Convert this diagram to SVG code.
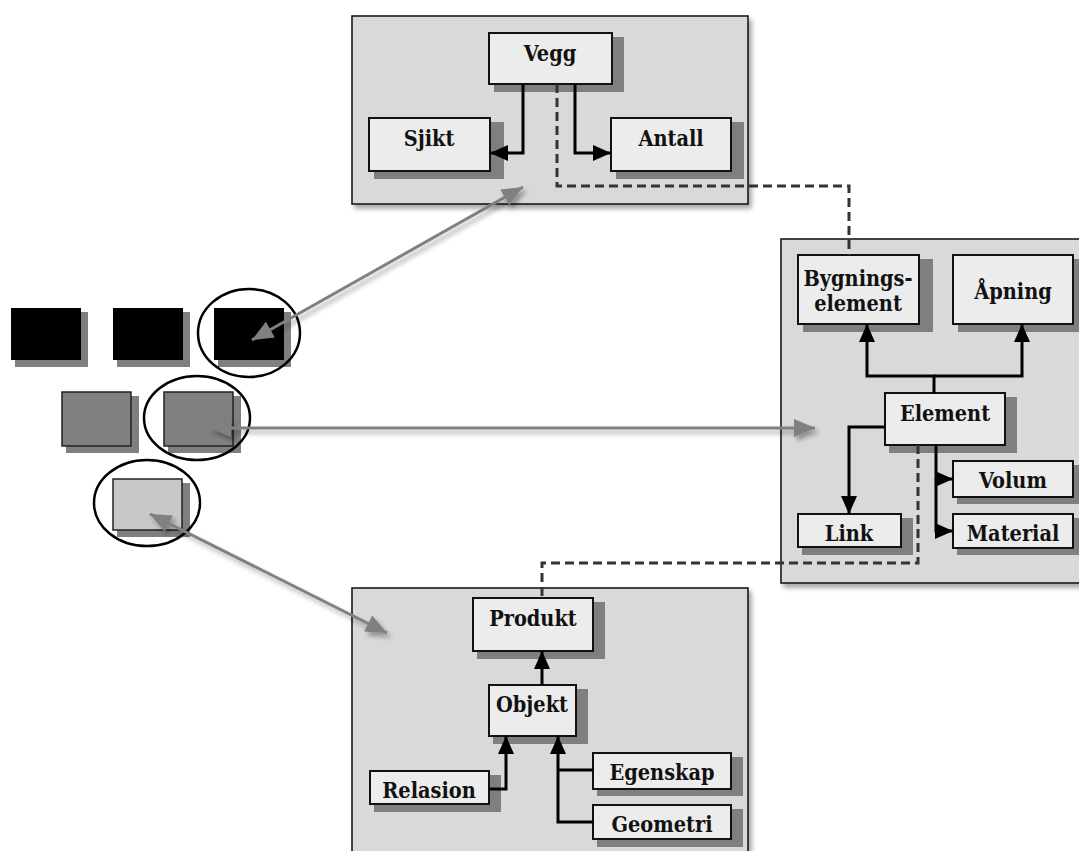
<svg xmlns="http://www.w3.org/2000/svg" width="1079" height="851" viewBox="0 0 1079 851">
  <defs>
    <style>
      .panel { fill: #d9d9d9; stroke: #1a1a1a; stroke-width: 1.6; }
      .sh { fill: #7f7f7f; }
      .box { fill: #ececec; stroke: #111; stroke-width: 2; }
      .lbl { font-family: 'DejaVu Serif Condensed', 'DejaVu Serif', serif; font-stretch: condensed; font-weight: bold; font-size: 21.5px; fill: #111; text-anchor: middle; }
      .link { fill: none; stroke: #000; stroke-width: 3; }
      .dash { fill: none; stroke: #333; stroke-width: 3; stroke-dasharray: 9 5; }
      .gray { fill: none; stroke: #808080; stroke-width: 3; }
      .ring { fill: none; stroke: #000; stroke-width: 2.5; }
    </style>
    <filter id="soft" x="-10%" y="-10%" width="130%" height="130%">
      <feGaussianBlur in="SourceAlpha" stdDeviation="2.5"/>
      <feOffset dx="3" dy="4" result="b"/>
      <feComponentTransfer><feFuncA type="linear" slope="0.35"/></feComponentTransfer>
      <feMerge><feMergeNode/><feMergeNode in="SourceGraphic"/></feMerge>
    </filter>
    <marker id="ah" markerUnits="userSpaceOnUse" markerWidth="20" markerHeight="18" refX="18" refY="9" orient="auto-start-reverse" overflow="visible">
      <path d="M0,1 L18,9 L0,17 z" fill="#000"/>
    </marker>
    <marker id="gah" markerUnits="userSpaceOnUse" markerWidth="22" markerHeight="18" refX="21" refY="9" orient="auto-start-reverse" overflow="visible">
      <path d="M0,0 L21,9 L0,18 z" fill="#808080"/>
    </marker>
  </defs>

  <rect width="1079" height="851" fill="#fff"/>

  <!-- package panels -->
  <g id="panel-vegg"><rect class="panel" x="352" y="16" width="396" height="188" filter="url(#soft)"/></g>
  <g id="panel-element"><rect class="panel" x="781" y="239" width="310" height="344" filter="url(#soft)"/></g>
  <g id="panel-produkt"><rect class="panel" x="352" y="588" width="396" height="280" filter="url(#soft)"/></g>

  <!-- legend squares on the left -->
  <g id="legend">
    <rect class="sh" x="15" y="312" width="73" height="55"/>
    <rect x="11" y="308" width="70" height="52" fill="#000"/>
    <rect class="sh" x="117" y="312" width="73" height="55"/>
    <rect x="113" y="308" width="70" height="52" fill="#000"/>
    <rect class="sh" x="218" y="312" width="73" height="55"/>
    <rect x="214" y="308" width="70" height="52" fill="#000"/>
    <rect class="sh" x="66" y="396" width="73" height="57"/>
    <rect x="62" y="392" width="69" height="54" fill="#7f7f7f" stroke="#222" stroke-width="1.5"/>
    <rect class="sh" x="168" y="396" width="73" height="57"/>
    <rect x="164" y="392" width="69" height="54" fill="#7f7f7f" stroke="#222" stroke-width="1.5"/>
    <rect class="sh" x="117" y="483" width="73" height="54"/>
    <rect x="113" y="479" width="69" height="51" fill="#c8c8c8" stroke="#222" stroke-width="1.5"/>
  </g>

  <!-- selection rings -->
  <g id="rings">
    <ellipse class="ring" cx="249" cy="333" rx="51" ry="44"/>
    <ellipse class="ring" cx="197" cy="418" rx="53" ry="42"/>
    <ellipse class="ring" cx="147" cy="503" rx="53" ry="43"/>
  </g>

  <!-- nodes -->
  <g id="vegg"><rect class="sh" x="494" y="37" width="130" height="55"/><rect class="box" x="489" y="33" width="123" height="51"/><text class="lbl" x="550" y="61">Vegg</text></g>
  <g id="sjikt"><rect class="sh" x="374" y="122" width="130" height="57"/><rect class="box" x="369" y="118" width="121" height="53"/><text class="lbl" x="429" y="146">Sjikt</text></g>
  <g id="antall"><rect class="sh" x="616" y="122" width="128" height="57"/><rect class="box" x="611" y="118" width="120" height="53"/><text class="lbl" x="671" y="146">Antall</text></g>

  <g id="bygningselement"><rect class="sh" x="803" y="259" width="130" height="73"/><rect class="box" x="798" y="255" width="121" height="69"/><text class="lbl" x="858" y="286">Bygnings-</text><text class="lbl" x="858" y="311">element</text></g>
  <g id="apning"><rect class="sh" x="958" y="259" width="128" height="73"/><rect class="box" x="953" y="255" width="120" height="69"/><text class="lbl" x="1013" y="299">Åpning</text></g>
  <g id="element"><rect class="sh" x="889" y="397" width="128" height="56"/><rect class="box" x="885" y="393" width="120" height="52"/><text class="lbl" x="945" y="421">Element</text></g>
  <g id="volum"><rect class="sh" x="957" y="465" width="128" height="39"/><rect class="box" x="953" y="461" width="120" height="36"/><text class="lbl" x="1013" y="488">Volum</text></g>
  <g id="material"><rect class="sh" x="957" y="518" width="128" height="37"/><rect class="box" x="953" y="514" width="120" height="34"/><text class="lbl" x="1013" y="541">Material</text></g>
  <g id="link"><rect class="sh" x="802" y="518" width="111" height="37"/><rect class="box" x="798" y="514" width="103" height="33"/><text class="lbl" x="849" y="541">Link</text></g>

  <g id="produkt"><rect class="sh" x="477" y="602" width="128" height="57"/><rect class="box" x="473" y="598" width="120" height="53"/><text class="lbl" x="533" y="626">Produkt</text></g>
  <g id="objekt"><rect class="sh" x="493" y="689" width="95" height="55"/><rect class="box" x="489" y="685" width="87" height="51"/><text class="lbl" x="532" y="712">Objekt</text></g>
  <g id="relasion"><rect class="sh" x="374" y="775" width="127" height="37"/><rect class="box" x="370" y="771" width="119" height="33"/><text class="lbl" x="429" y="798">Relasion</text></g>
  <g id="egenskap"><rect class="sh" x="597" y="757" width="146" height="39"/><rect class="box" x="593" y="753" width="138" height="36"/><text class="lbl" x="662" y="780">Egenskap</text></g>
  <g id="geometri"><rect class="sh" x="597" y="809" width="146" height="38"/><rect class="box" x="593" y="805" width="138" height="34"/><text class="lbl" x="662" y="832">Geometri</text></g>

  <!-- connectors, drawn over node shadows -->
  <g id="connectors">
    <!-- gray mapping arrows -->
    <g filter="url(#soft)">
      <line class="gray" x1="252" y1="340" x2="523" y2="187" marker-start="url(#gah)" marker-end="url(#gah)"/>
      <line class="gray" x1="210" y1="428" x2="815" y2="428" marker-start="url(#gah)" marker-end="url(#gah)"/>
      <line class="gray" x1="150" y1="514" x2="387" y2="633" marker-start="url(#gah)" marker-end="url(#gah)"/>
    </g>
    <!-- Vegg -->
    <path class="link" d="M523,84 V153 H490" marker-end="url(#ah)"/>
    <path class="link" d="M575,84 V153 H611" marker-end="url(#ah)"/>
    <!-- Element -->
    <path class="link" d="M934,393 V376 H867 V324" marker-end="url(#ah)"/>
    <path class="link" d="M934,376 H1022 V324" marker-end="url(#ah)"/>
    <path class="link" d="M885,427 H849 V514" marker-end="url(#ah)"/>
    <path class="link" d="M936,445 V479 H953" marker-end="url(#ah)"/>
    <path class="link" d="M936,479 V531 H953" marker-end="url(#ah)"/>
    <!-- Produkt -->
    <path class="link" d="M542,685 V651" marker-end="url(#ah)"/>
    <path class="link" d="M489,789 H506 V736" marker-end="url(#ah)"/>
    <path class="link" d="M593,822 H558 V736" marker-end="url(#ah)"/>
    <path class="link" d="M593,770 H558"/>
    <!-- dashed cross-package links -->
    <path class="dash" d="M557,84 V186 H849 V255"/>
    <path class="dash" d="M918,445 V563 H542 V598"/>
  </g>
</svg>
